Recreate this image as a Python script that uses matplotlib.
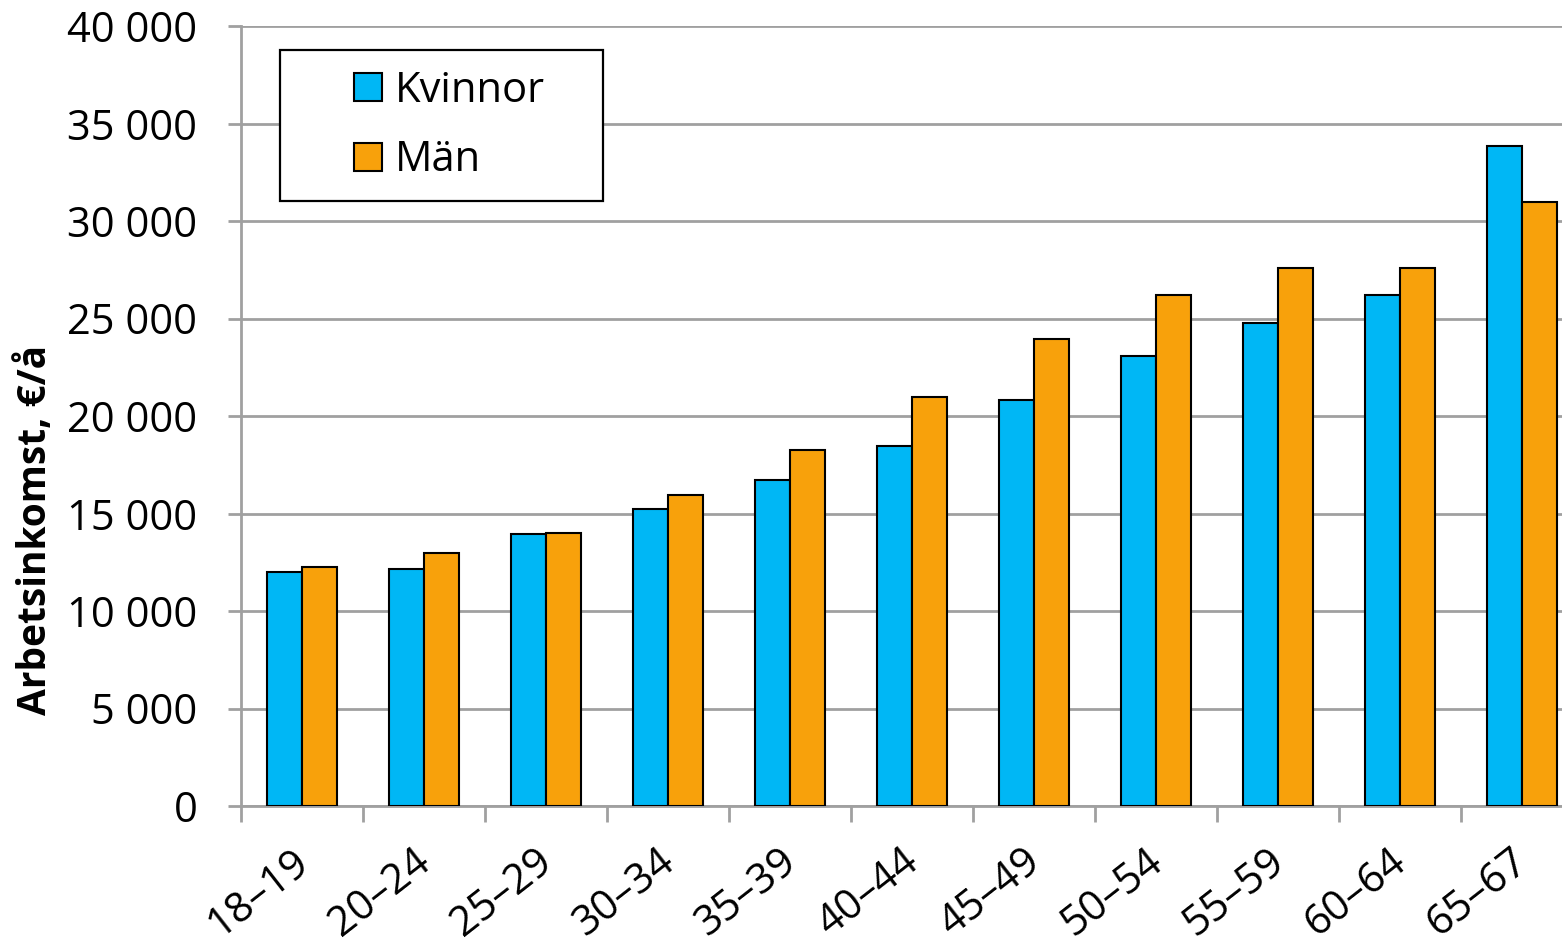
import matplotlib.pyplot as plt
import matplotlib.ticker as mticker
import matplotlib.transforms as mtransforms
from matplotlib.legend_handler import HandlerPatch
from matplotlib.patches import Rectangle
import numpy as np

categories = ['18–19', '20–24', '25–29', '30–34', '35–39', '40–44',
              '45–49', '50–54', '55–59', '60–64', '65–67']
kvinnor = [12000, 12150, 13950, 15250, 16700, 18450, 20800, 23080, 24780, 26200, 33850]
man = [12280, 13000, 13980, 15950, 18250, 21000, 23950, 26200, 27580, 27580, 30970]
series_names = ['Kvinnor', 'Män']

plt.rcParams['font.family'] = ['Open Sans', 'DejaVu Sans']

fig = plt.figure(figsize=(15.62, 9.44), dpi=100)
ax = fig.add_axes([241 / 1562, 1 - 806 / 944, (1583 - 241) / 1562, (806 - 26) / 944])

x = np.arange(len(categories))
w = 0.287
bk = ax.bar(x - w / 2, kvinnor, w, color='#00B7F5', edgecolor='black', linewidth=1.5, zorder=3)
bm = ax.bar(x + w / 2, man, w, color='#F8A10B', edgecolor='black', linewidth=1.5, zorder=3)

ax.set_xlim(-0.5, len(categories) - 0.5)
ax.set_ylim(0, 40000)
ax.yaxis.set_major_locator(mticker.MultipleLocator(5000))
ax.yaxis.set_major_formatter(mticker.FuncFormatter(lambda v, p: f'{int(v):,}'.replace(',', ' ')))
ax.grid(axis='y', color='#a0a0a0', linewidth=2, zorder=0)

# ticks between categories, labels at centres
ax.set_xticks(np.arange(len(categories) + 1) - 0.5)
ax.set_xticklabels([])
ax.set_xticks(x, minor=True)
ax.set_xticklabels(categories, minor=True, rotation=38, ha='right',
                   rotation_mode='anchor', fontsize=30)
ax.tick_params(axis='x', which='minor', length=0, pad=25)
ax.tick_params(axis='x', which='major', length=11.5, width=2, color='#a0a0a0')
ax.tick_params(axis='y', length=9.5, width=2, color='#a0a0a0', labelsize=30, pad=22)

# nudge the slanted labels a bit to the left (after tick_params, which resets transforms)
shift = mtransforms.ScaledTranslation(-8 / 72, 0, fig.dpi_scale_trans)
for lab in ax.get_xticklabels(minor=True):
    lab.set_transform(lab.get_transform() + shift)

for s in ['top', 'right']:
    ax.spines[s].set_visible(False)
for s in ['left', 'bottom']:
    ax.spines[s].set_color('#a0a0a0')
    ax.spines[s].set_linewidth(2)

ax.set_ylabel('Arbetsinkomst, €/å', fontsize=28, fontweight='bold')
ax.yaxis.set_label_coords((55 - 241) / 1342, (806 - 530) / 780)


def square_right(legend, orig_handle, xdescent, ydescent, width, height, fontsize):
    return Rectangle((width - height - xdescent, -ydescent), height, height)


top = 1 - 24 / 780
leg = ax.legend(handles=[bk.patches[0], bm.patches[0]], labels=series_names,
                loc='upper left', mode='expand',
                bbox_to_anchor=((280 - 241) / 1342, top - 0.1, 323 / 1342, 0.1),
                fontsize=30, fancybox=False, framealpha=1, edgecolor='black',
                handlelength=1.98, handleheight=0.65, handletextpad=0.3,
                borderpad=0.47, labelspacing=0.67, borderaxespad=0,
                handler_map={Rectangle: HandlerPatch(patch_func=square_right)})
leg.get_frame().set_linewidth(1.6)

fig.savefig('out.png', dpi=100)
